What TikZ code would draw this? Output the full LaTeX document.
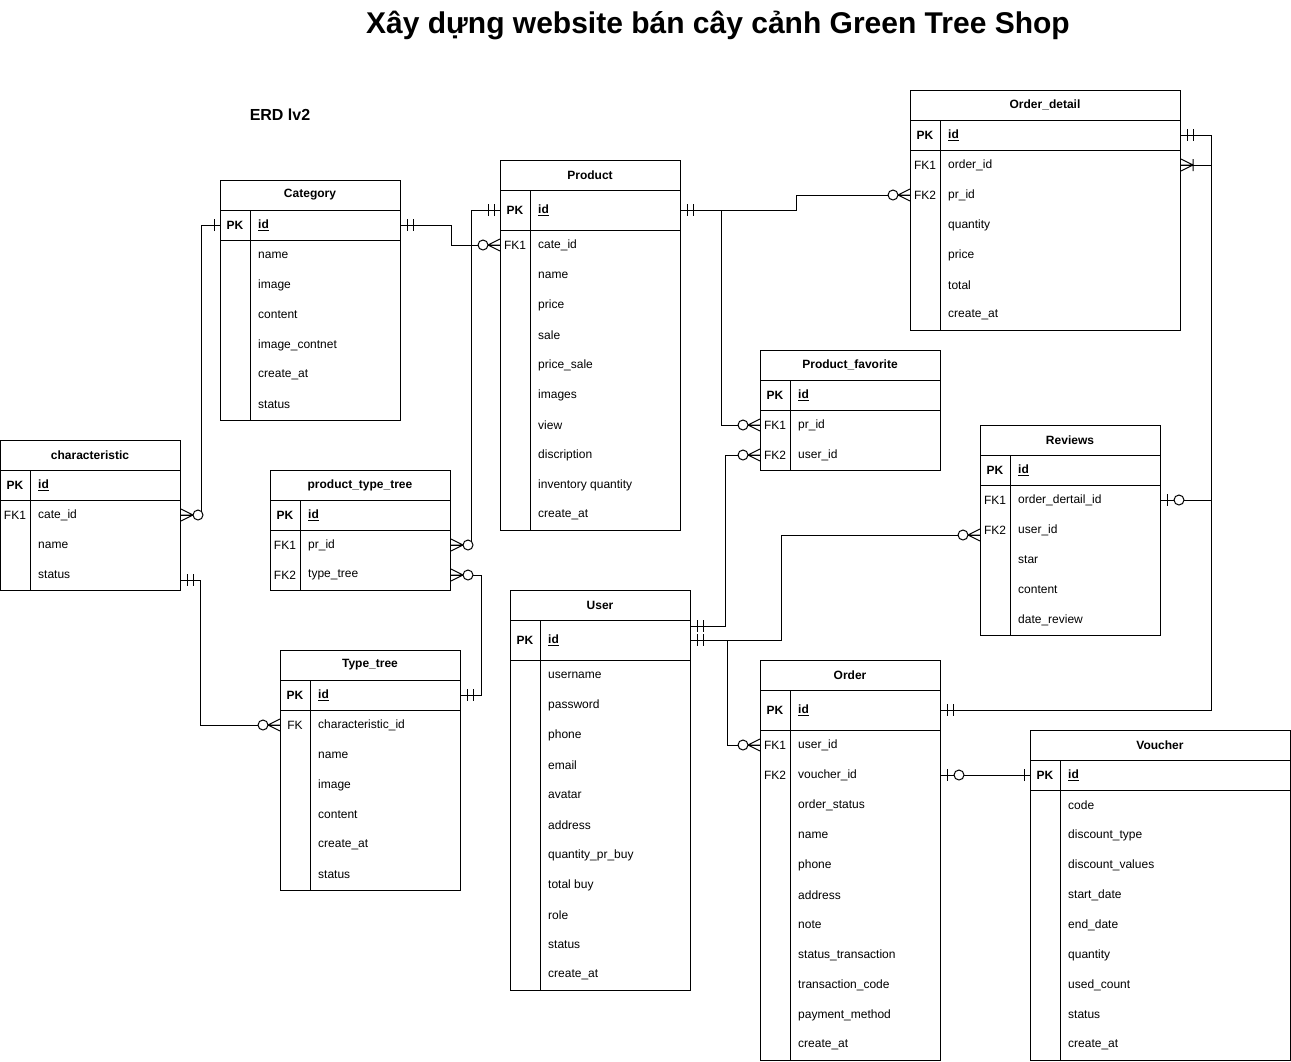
\documentclass[tikz,border=0pt]{standalone}
\usepackage{fontspec}
\setmainfont{Liberation Sans}
\usepackage{tikz}
\usetikzlibrary{positioning,calc}
\newcommand{\erdfont}{\fontsize{12}{14}\selectfont}
\tikzset{
  tbl/.style={draw,line width=1pt,anchor=north west,inner sep=0pt},
  tline/.style={line width=1pt},
  thead/.style={font=\erdfont\bfseries},
  key/.style={inner sep=0pt},
  pkey/.style={inner sep=0pt,font=\erdfont\bfseries},
  fld/.style={anchor=west,inner sep=0pt},
  fid/.style={anchor=west,inner sep=0pt,font=\erdfont\bfseries},
  conn/.style={line width=1pt},
  mone/.pic={\draw[line width=1pt] (6,-6) -- (6,6) (12,-6) -- (12,6);},
  one/.pic={\draw[line width=1pt] (6,-6) -- (6,6);},
  zmany/.pic={\draw[line width=1pt] (0,-6) -- (12,0) -- (0,6) (0,0) -- (12,0);
    \draw[line width=1pt,fill=white] (17,0) circle[radius=5pt];},
  omany/.pic={\draw[line width=1pt] (0,-6) -- (12,0) -- (0,6) (0,0) -- (12,0) (12,-6) -- (12,6);},
  zone/.pic={\draw[line width=1pt] (0,0) -- (12,0) (6,-6) -- (6,6);
    \draw[line width=1pt,fill=white] (18,0) circle[radius=5pt];},
}

\begin{document}
\begin{tikzpicture}[x=1pt,y=-1pt,font=\erdfont]
\useasboundingbox (0,0) rectangle (1291,1061);
\node[font=\fontsize{30}{34}\selectfont\bfseries] (title) at (718,25) {Xây dựng website bán cây cảnh Green Tree Shop};
\node[font=\fontsize{16}{18}\selectfont\bfseries] (lvl) at (280,115) {ERD lv2};

% Category
\node[tbl,minimum width=180pt,minimum height=240pt] (cat) at (220,180) {};
\draw[tline] (220,210) -- (400,210) (220,240) -- (400,240) (250,210) -- (250,420);
\node[thead] (cat-h) at (310,195) {Category};
\node[pkey] (cat-pk) at (235,225) {PK};
\node[fid] (cat-id) at (258,225) {\underline{id}};
\foreach \t [count=\i] in {name,image,content,image\_contnet,create\_at,status}
  \node[fld] (cat-\i) at (258,{225+30*\i}) {\t};

% Product
\node[tbl,minimum width=180pt,minimum height=370pt] (prd) at (500,160) {};
\draw[tline] (500,190) -- (680,190) (500,230) -- (680,230) (530,190) -- (530,530);
\node[thead] (prd-h) at (590,175) {Product};
\node[pkey] (prd-pk) at (515,210) {PK};
\node[fid] (prd-id) at (538,210) {\underline{id}};
\node[key] (prd-fk1) at (515,245) {FK1};
\node[fld] (prd-cate) at (538,245) {cate\_id};
\foreach \t [count=\i] in {name,price,sale,price\_sale,images,view,discription,inventory quantity,create\_at}
  \node[fld] (prd-\i) at (538,{245+30*\i}) {\t};

% Order_detail
\node[tbl,minimum width=270pt,minimum height=240pt] (odt) at (910,90) {};
\draw[tline] (910,120) -- (1180,120) (910,150) -- (1180,150) (940,120) -- (940,330);
\node[thead] (odt-h) at (1045,105) {Order\_detail};
\node[pkey] (odt-pk) at (925,135) {PK};
\node[fid] (odt-id) at (948,135) {\underline{id}};
\node[key] (odt-fk1) at (925,165) {FK1};
\node[fld] (odt-ord) at (948,165) {order\_id};
\node[key] (odt-fk2) at (925,195) {FK2};
\node[fld] (odt-pr) at (948,195) {pr\_id};
\foreach \t [count=\i] in {quantity,price,total,create\_at}
  \node[fld] (odt-\i) at (948,{195+30*\i}) {\t};

% Product_favorite
\node[tbl,minimum width=180pt,minimum height=120pt] (fav) at (760,350) {};
\draw[tline] (760,380) -- (940,380) (760,410) -- (940,410) (790,380) -- (790,470);
\node[thead] (fav-h) at (850,365) {Product\_favorite};
\node[pkey] (fav-pk) at (775,395) {PK};
\node[fid] (fav-id) at (798,395) {\underline{id}};
\node[key] (fav-fk1) at (775,425) {FK1};
\node[fld] (fav-pr) at (798,425) {pr\_id};
\node[key] (fav-fk2) at (775,455) {FK2};
\node[fld] (fav-user) at (798,455) {user\_id};

% Reviews
\node[tbl,minimum width=180pt,minimum height=210pt] (rev) at (980,425) {};
\draw[tline] (980,455) -- (1160,455) (980,485) -- (1160,485) (1010,455) -- (1010,635);
\node[thead] (rev-h) at (1070,440) {Reviews};
\node[pkey] (rev-pk) at (995,470) {PK};
\node[fid] (rev-id) at (1018,470) {\underline{id}};
\node[key] (rev-fk1) at (995,500) {FK1};
\node[fld] (rev-odt) at (1018,500) {order\_dertail\_id};
\node[key] (rev-fk2) at (995,530) {FK2};
\node[fld] (rev-user) at (1018,530) {user\_id};
\foreach \t [count=\i] in {star,content,date\_review}
  \node[fld] (rev-\i) at (1018,{530+30*\i}) {\t};

% characteristic
\node[tbl,minimum width=180pt,minimum height=150pt] (chr) at (0,440) {};
\draw[tline] (0,470) -- (180,470) (0,500) -- (180,500) (30,470) -- (30,590);
\node[thead] (chr-h) at (90,455) {characteristic};
\node[pkey] (chr-pk) at (15,485) {PK};
\node[fid] (chr-id) at (38,485) {\underline{id}};
\node[key] (chr-fk1) at (15,515) {FK1};
\node[fld] (chr-cate) at (38,515) {cate\_id};
\node[fld] (chr-name) at (38,545) {name};
\node[fld] (chr-status) at (38,575) {status};

% product_type_tree
\node[tbl,minimum width=180pt,minimum height=120pt] (ptt) at (270,470) {};
\draw[tline] (270,500) -- (450,500) (270,530) -- (450,530) (300,500) -- (300,590);
\node[thead] (ptt-h) at (360,485) {product\_type\_tree};
\node[pkey] (ptt-pk) at (285,515) {PK};
\node[fid] (ptt-id) at (308,515) {\underline{id}};
\node[key] (ptt-fk1) at (285,545) {FK1};
\node[fld] (ptt-pr) at (308,545) {pr\_id};
\node[key] (ptt-fk2) at (285,575) {FK2};
\node[fld] (ptt-type) at (308,575) {type\_tree};

% Type_tree
\node[tbl,minimum width=180pt,minimum height=240pt] (typ) at (280,650) {};
\draw[tline] (280,680) -- (460,680) (280,710) -- (460,710) (310,680) -- (310,890);
\node[thead] (typ-h) at (370,665) {Type\_tree};
\node[pkey] (typ-pk) at (295,695) {PK};
\node[fid] (typ-id) at (318,695) {\underline{id}};
\node[key] (typ-fk) at (295,725) {FK};
\node[fld] (typ-char) at (318,725) {characteristic\_id};
\foreach \t [count=\i] in {name,image,content,create\_at,status}
  \node[fld] (typ-\i) at (318,{725+30*\i}) {\t};

% User
\node[tbl,minimum width=180pt,minimum height=400pt] (usr) at (510,590) {};
\draw[tline] (510,620) -- (690,620) (510,660) -- (690,660) (540,620) -- (540,990);
\node[thead] (usr-h) at (600,605) {User};
\node[pkey] (usr-pk) at (525,640) {PK};
\node[fid] (usr-id) at (548,640) {\underline{id}};
\foreach \t [count=\i] in {username,password,phone,email,avatar,address,quantity\_pr\_buy,total buy,role,status,create\_at}
  \node[fld] (usr-\i) at (548,{645+30*\i}) {\t};

% Order
\node[tbl,minimum width=180pt,minimum height=400pt] (ord) at (760,660) {};
\draw[tline] (760,690) -- (940,690) (760,730) -- (940,730) (790,690) -- (790,1060);
\node[thead] (ord-h) at (850,675) {Order};
\node[pkey] (ord-pk) at (775,710) {PK};
\node[fid] (ord-id) at (798,710) {\underline{id}};
\node[key] (ord-fk1) at (775,745) {FK1};
\node[fld] (ord-user) at (798,745) {user\_id};
\node[key] (ord-fk2) at (775,775) {FK2};
\node[fld] (ord-vou) at (798,775) {voucher\_id};
\foreach \t [count=\i] in {order\_status,name,phone,address,note,status\_transaction,transaction\_code,payment\_method,create\_at}
  \node[fld] (ord-\i) at (798,{775+30*\i}) {\t};

% Voucher
\node[tbl,minimum width=260pt,minimum height=330pt] (vou) at (1030,730) {};
\draw[tline] (1030,760) -- (1290,760) (1030,790) -- (1290,790) (1060,760) -- (1060,1060);
\node[thead] (vou-h) at (1160,745) {Voucher};
\node[pkey] (vou-pk) at (1045,775) {PK};
\node[fid] (vou-id) at (1068,775) {\underline{id}};
\foreach \t [count=\i] in {code,discount\_type,discount\_values,start\_date,end\_date,quantity,used\_count,status,create\_at}
  \node[fld] (vou-\i) at (1068,{775+30*\i}) {\t};

% relations
\draw[conn] (cat.east |- cat-id) -- ++(50,0) |- (prd.west |- prd-cate);
\draw[conn] (prd.west |- prd-id) -| ([xshift=20pt]ptt.east |- ptt-pr) -- (ptt.east |- ptt-pr);
\draw[conn] (ptt.east |- ptt-type) -| ([xshift=20pt]typ.east |- typ-id) -- (typ.east |- typ-id);
\draw[conn] (cat.west |- cat-id) -| ([xshift=20pt]chr.east |- chr-cate) -- (chr.east |- chr-cate);
\draw[conn] ([yshift=-5pt]chr.east |- chr-status) -| ([xshift=-80pt]typ.west |- typ-char) -- (typ.west |- typ-char);
\draw[conn] (prd.east |- prd-id) -- ++(115,0) |- (odt.west |- odt-pr);
\draw[conn] (prd.east |- prd-id) -- ++(40,0) |- (fav.west |- fav-pr);
\draw[conn] ([yshift=14pt]usr.east |- usr-id) -- ++(34,0) |- (fav.west |- fav-user);
\draw[conn] (usr.east |- usr-id) -- ++(90,0) |- ([yshift=-5pt]rev.west |- rev-user);
\draw[conn] (usr.east |- usr-id) -- ++(36,0) |- (ord.west |- ord-user);
\draw[conn] (odt.east |- odt-id) -- ++(30,0) |- (rev.east |- rev-odt);
\draw[conn] (ord.east |- ord-id) -- ++(270,0) |- (odt.east |- odt-ord);
\draw[conn] (ord.east |- ord-vou) -- (vou.west |- vou-id);

\pic at (cat.east |- cat-id) {mone};
\pic[rotate=180] at (prd.west |- prd-cate) {zmany};
\pic[rotate=180] at (prd.west |- prd-id) {mone};
\pic at (ptt.east |- ptt-pr) {zmany};
\pic at (ptt.east |- ptt-type) {zmany};
\pic at (typ.east |- typ-id) {mone};
\pic[rotate=180] at (cat.west |- cat-id) {one};
\pic at (chr.east |- chr-cate) {zmany};
\pic at ([yshift=-5pt]chr.east |- chr-status) {mone};
\pic[rotate=180] at (typ.west |- typ-char) {zmany};
\pic at (prd.east |- prd-id) {mone};
\pic[rotate=180] at (odt.west |- odt-pr) {zmany};
\pic[rotate=180] at (fav.west |- fav-pr) {zmany};
\pic at ([yshift=14pt]usr.east |- usr-id) {mone};
\pic[rotate=180] at (fav.west |- fav-user) {zmany};
\pic at (usr.east |- usr-id) {mone};
\pic[rotate=180] at ([yshift=-5pt]rev.west |- rev-user) {zmany};
\pic[rotate=180] at (ord.west |- ord-user) {zmany};
\pic at (odt.east |- odt-id) {mone};
\pic at (rev.east |- rev-odt) {zone};
\pic at (ord.east |- ord-id) {mone};
\pic at (odt.east |- odt-ord) {omany};
\pic at (ord.east |- ord-vou) {zone};
\pic[rotate=180] at (vou.west |- vou-id) {one};
\end{tikzpicture}
\end{document}
